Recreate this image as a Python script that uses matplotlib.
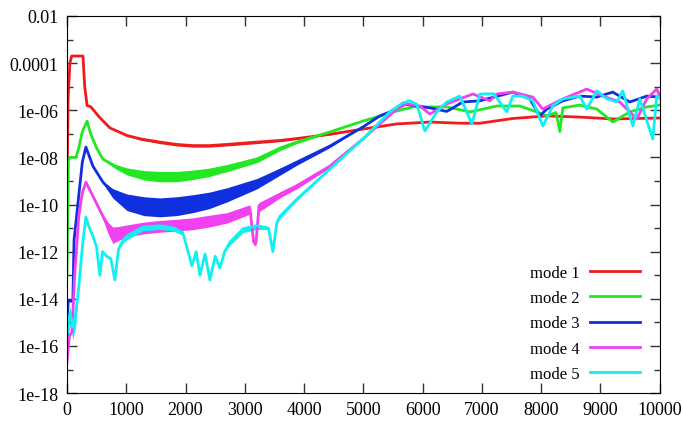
import numpy as np
import matplotlib
matplotlib.use('Agg')
import matplotlib.pyplot as plt
from matplotlib.ticker import FixedLocator, MultipleLocator, NullFormatter

# values: x, log10(y), noise half-width in decades
# (noise lists stop where the curve becomes clean; the rest is 0)
x1 = [0, 20, 50, 80, 270, 300, 340, 400, 450, 550, 725, 1012, 1250, 1568, 1850, 2125, 2400,
      2698, 3204, 3600, 3879, 4435, 4992, 5565, 6121, 6627, 6965, 7521, 8094, 8651, 9207, 10000]
y1 = [-9.4, -5.5, -4.0, -3.7, -3.7, -5.0, -5.8, -5.85, -6.0, -6.3, -6.75, -7.07, -7.22, -7.35,
      -7.45, -7.5, -7.5, -7.45, -7.35, -7.28, -7.2, -7.02, -6.8, -6.58, -6.5, -6.55, -6.55,
      -6.35, -6.24, -6.29, -6.37, -6.33]
s1 = [0, 0, 0, 0, 0, 0, 0, 0, 0, 0, 0, 0.03, 0.04, 0.05, 0.05, 0.05, 0.05, 0.05, 0.05, 0.04,
      0.03, 0.02]

x2 = [0, 25, 50, 150, 200, 260, 340, 400, 500, 607, 800, 1012, 1300, 1568, 1850, 2125, 2400,
      2698, 3204, 3600, 3879, 4435, 4992, 5565, 5835, 6408, 6796, 7251, 7639, 7926, 8094, 8250,
      8314, 8364, 8651, 8938, 9207, 9494, 9781, 10000]
y2 = [-13, -8.1, -8.0, -8.0, -7.6, -6.9, -6.46, -7.0, -7.6, -8.07, -8.35, -8.55, -8.7, -8.75,
      -8.75, -8.68, -8.58, -8.41, -8.07, -7.6, -7.35, -6.92, -6.46, -6.03, -5.86, -5.86, -6.07,
      -5.82, -5.82, -6.07, -6.24, -6.1, -6.9, -5.9, -5.78, -5.95, -6.5, -6.07, -5.86, -5.78]
s2 = [0, 0, 0, 0, 0, 0, 0, 0, 0, 0.03, 0.08, 0.15, 0.2, 0.22, 0.22, 0.2, 0.18, 0.15, 0.12,
      0.08, 0.05, 0.02]

x3 = [0, 20, 100, 120, 150, 200, 260, 320, 438, 607, 776, 1012, 1300, 1568, 1850, 2125, 2400,
      2698, 3204, 3600, 3879, 4435, 4992, 5278, 5447, 5666, 5902, 6121, 6408, 6678, 6965, 7521,
      7808, 7976, 8094, 8364, 8651, 8938, 9207, 9494, 9781, 10000]
y3 = [-15.5, -14.1, -14.1, -11.5, -10.8, -9.6, -8.2, -7.56, -8.37, -9.05, -9.47, -9.8, -9.95,
      -10.0, -9.95, -9.85, -9.72, -9.5, -9.05, -8.55, -8.2, -7.52, -6.71, -6.24, -6.07, -5.73,
      -5.82, -5.9, -6.05, -5.65, -5.6, -5.23, -5.52, -6.24, -5.95, -5.6, -5.4, -5.44, -5.23,
      -5.65, -5.4, -5.44]
s3 = [0, 0, 0, 0, 0, 0, 0, 0, 0, 0.05, 0.2, 0.35, 0.4, 0.4, 0.4, 0.38, 0.35, 0.3, 0.22, 0.15,
      0.1, 0.05]

x4 = [0, 40, 85, 130, 200, 260, 320, 438, 607, 700, 776, 850, 1012, 1300, 1568, 1850, 2125,
      2400, 2698, 3086, 3150, 3190, 3240, 3600, 3879, 4435, 4992, 5278, 5565, 5733, 5953, 6121,
      6408, 6847, 7133, 7251, 7521, 7858, 8027, 8364, 8769, 9039, 9325, 9612, 9781, 9949, 10000]
y4 = [-16.7, -15.6, -15.4, -13, -10.5, -9.5, -9.05, -9.64, -10.5, -10.95, -11.2, -11.15,
      -11.04, -10.92, -10.85, -10.8, -10.74, -10.63, -10.5, -10.15, -11.6, -11.6, -10.05,
      -9.55, -9.2, -8.37, -7.22, -6.58, -5.95, -5.73, -5.82, -6.16, -5.73, -5.31, -5.6, -5.31,
      -5.23, -5.44, -5.95, -5.52, -5.1, -5.4, -5.65, -6.37, -5.52, -5.1, -5.4]
s4 = [0, 0, 0, 0, 0, 0, 0, 0, 0.1, 0.25, 0.35, 0.3, 0.25, 0.25, 0.25, 0.25, 0.25, 0.25, 0.22,
      0.2, 0.1, 0.1, 0.2, 0.12, 0.1, 0.05]

x5 = [0, 50, 100, 150, 200, 260, 320, 380, 438, 500, 556, 600, 674, 740, 809, 870, 950, 1012,
      1282, 1568, 1800, 1956, 2108, 2180, 2243, 2330, 2412, 2500, 2580, 2660, 2749, 2968, 3204,
      3400, 3474, 3540, 3592, 3879, 4435, 4992, 5447, 5666, 5784, 5902, 6037, 6239, 6408, 6627,
      6830, 6965, 7200, 7420, 7521, 7690, 7858, 8027, 8200, 8364, 8651, 8769, 8938, 9100, 9275,
      9376, 9545, 9663, 9882, 9949, 10000]
y5 = [-15.5, -14.6, -15.2, -14.6, -13.5, -11.8, -10.53, -11.0, -11.34, -11.8, -13.0, -12.0,
      -12.2, -12.3, -13.2, -11.9, -11.5, -11.34, -10.96, -10.9, -11.0, -11.2, -12.6, -12.0,
      -13.0, -12.1, -13.2, -12.2, -12.7, -12.0, -11.6, -11.04, -10.9, -11.0, -12.0, -10.8,
      -10.5, -9.77, -8.5, -7.22, -6.07, -5.69, -5.6, -5.75, -6.88, -6.07, -5.65, -5.4, -6.58,
      -5.31, -5.3, -6.07, -5.4, -5.4, -5.6, -6.67, -5.8, -5.52, -5.4, -5.95, -5.18, -5.5,
      -5.65, -5.18, -6.67, -5.52, -7.22, -5.4, -5.5]
s5 = [0.4, 0.4, 0.4, 0.4, 0, 0, 0, 0, 0, 0, 0, 0, 0, 0, 0, 0, 0.1, 0.12, 0.12, 0.12, 0.1,
      0.08, 0, 0, 0, 0, 0, 0, 0, 0, 0.1, 0.12, 0.12, 0.05, 0, 0, 0.08, 0.05]

names = ['mode 1', 'mode 2', 'mode 3', 'mode 4', 'mode 5']
colors = ['#ee1c1c', '#22e822', '#1030e0', '#f040f0', '#10f0f0']

ytick_vals = [1e-2, 1e-4, 1e-6, 1e-8, 1e-10, 1e-12, 1e-14, 1e-16, 1e-18]
ytick_labels = ['0.01', '0.0001', '1e-06', '1e-08', '1e-10', '1e-12', '1e-14', '1e-16', '1e-18']

plt.rcParams['font.family'] = ['Liberation Serif', 'DejaVu Serif']

fig = plt.figure(figsize=(6.83, 4.35), dpi=100)
ax = fig.add_axes([0.098, 0.094, 0.868, 0.867])

series = [(x1, y1, s1), (x2, y2, s2), (x3, y3, s3), (x4, y4, s4), (x5, y5, s5)]
for (xs, ys, ss), c, n in zip(series, colors, names):
    xs = np.array(xs, dtype=float)
    ys = np.array(ys)
    ss = np.pad(np.array(ss, dtype=float), (0, len(xs) - len(ss)))
    ax.fill_between(xs, 10 ** (ys - 1.3 * ss), 10 ** (ys + 0.7 * ss), color=c, lw=0)
    ax.plot(xs, 10 ** ys, color=c, lw=2, label=n)

ax.set_yscale('log')
ax.set_xlim(0, 10000)
ax.set_ylim(1e-18, 1e-2)
ax.xaxis.set_major_locator(MultipleLocator(1000))
ax.yaxis.set_major_locator(FixedLocator(ytick_vals))
ax.set_yticklabels(ytick_labels)
ax.yaxis.set_minor_locator(FixedLocator([10.0 ** k for k in range(-17, -2, 2)]))
ax.yaxis.set_minor_formatter(NullFormatter())
ax.tick_params(which='major', direction='in', length=7, width=1, top=True, right=True,
               labelsize=13, pad=6, color='#333333')
ax.tick_params(which='minor', direction='in', length=4, width=1, top=True, right=True,
               color='#333333')
ax.tick_params(axis='x', which='minor', bottom=False, top=False)

ax.legend(loc='lower right', bbox_to_anchor=(0.966, 0.03), frameon=False, markerfirst=False,
          fontsize=12, handlelength=3.0, handletextpad=0.6, labelspacing=0.55,
          borderaxespad=0, borderpad=0)

plt.savefig('out.png', dpi=100)
